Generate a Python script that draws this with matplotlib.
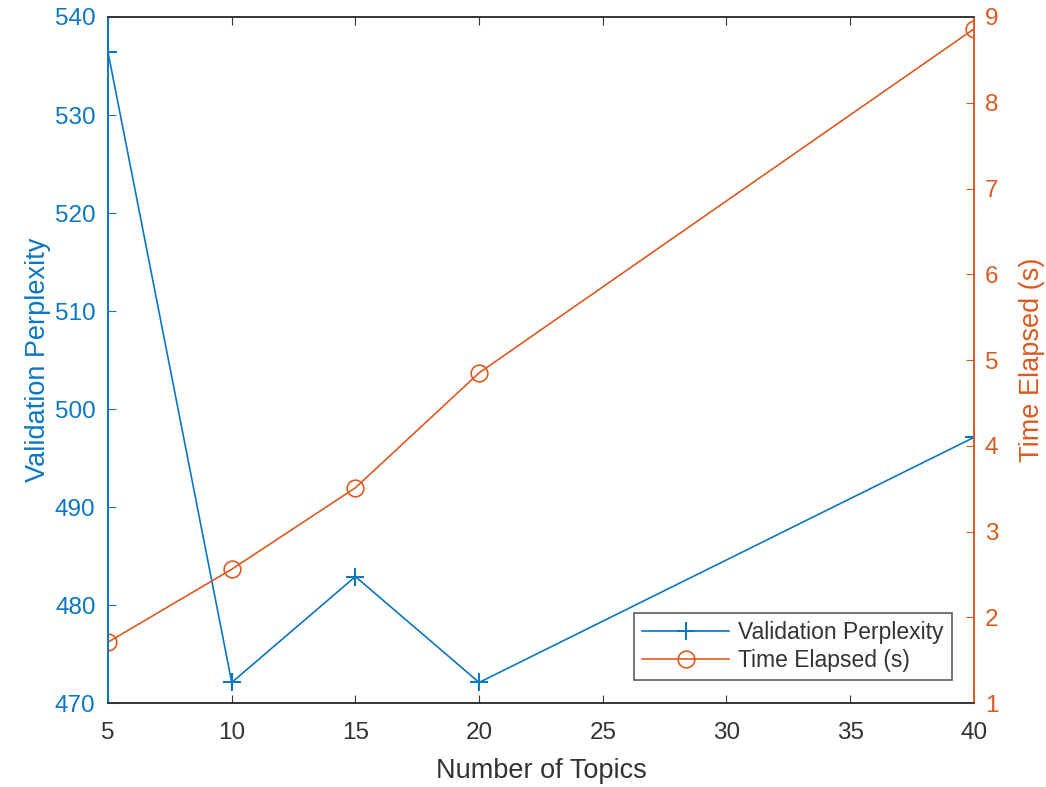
import matplotlib
matplotlib.use("Agg")
import matplotlib.pyplot as plt

topics = [5, 10, 15, 20, 40]
perplexity = [536.4, 472.1, 482.9, 472.1, 497.1]
time_elapsed = [1.71, 2.56, 3.51, 4.85, 8.86]

xticks = [5, 10, 15, 20, 25, 30, 35, 40]
left_ticks = [470, 480, 490, 500, 510, 520, 530, 540]
right_ticks = [1, 2, 3, 4, 5, 6, 7, 8, 9]

blue = "#0B76C2"
orange = "#DB5A22"
dark = "#333333"

plt.rcParams['font.family'] = ['Liberation Sans', 'DejaVu Sans']

fig = plt.figure(figsize=(10.46, 7.87), dpi=100)
ax = fig.add_axes([0.1033, 0.1067, 0.8277, 0.8717])
ax2 = ax.twinx()

l1, = ax.plot(topics, perplexity, color=blue, marker='+', markersize=13,
              markeredgewidth=1.5, linewidth=1.2, label='Validation Perplexity')
l2, = ax2.plot(topics, time_elapsed, color=orange, marker='o', markersize=12,
               markerfacecolor='none', markeredgewidth=1.2, linewidth=1.2,
               label='Time Elapsed (s)')

ax.set_xlim(5, 40)
ax.set_ylim(470, 540)
ax2.set_ylim(1, 9)
ax.set_xticks(xticks)
ax.set_yticks(left_ticks)
ax2.set_yticks(right_ticks)

ax.tick_params(axis='x', direction='in', top=True, length=6, colors=dark,
               labelsize=17.5, pad=14)
ax.tick_params(axis='y', direction='in', length=6, colors=blue, labelsize=17.5, pad=9)
ax2.tick_params(axis='y', direction='in', length=6, colors=orange, labelsize=17.5, pad=8)
ax2.tick_params(axis='x', top=False)

for a in (ax, ax2):
    a.spines['top'].set_color(dark)
    a.spines['bottom'].set_color(dark)
    a.spines['left'].set_color(blue)
    a.spines['right'].set_color(orange)
    for s in a.spines.values():
        s.set_linewidth(1.2)

ax.set_xlabel('Number of Topics', fontsize=19.5, color=dark, labelpad=10)
ax.set_ylabel('Validation Perplexity', fontsize=19.5, color=blue, labelpad=3)
ax2.set_ylabel('Time Elapsed (s)', fontsize=19.5, color=orange, labelpad=15)

leg = ax2.legend(handles=[l1, l2], loc='lower right', fontsize=16.5,
                 frameon=True, fancybox=False, edgecolor=dark,
                 bbox_to_anchor=(0.9746, 0.0335), borderaxespad=0,
                 borderpad=0.35, handlelength=3.8, handletextpad=0.4,
                 labelspacing=0.2)
leg.get_frame().set_linewidth(1.2)
for t in leg.get_texts():
    t.set_color(dark)

fig.savefig('out.png', dpi=100)
